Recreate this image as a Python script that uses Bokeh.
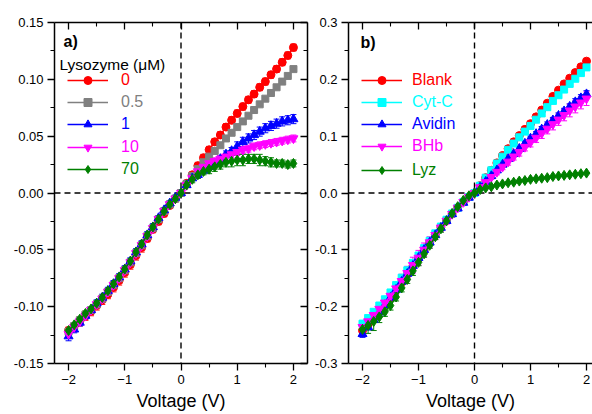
from bokeh.plotting import figure
from bokeh.models import (ColumnDataSource, Whisker, TeeHead, Span, Label, Legend, LegendItem,
                          LinearAxis, FixedTicker, PrintfTickFormatter, Range1d)
from bokeh.layouts import row
from bokeh.core.properties import value
from bokeh.embed import file_html
from bokeh.resources import INLINE

FONT = "Liberation Sans"

# ---------------- data ----------------
voltage = [-2.0, -1.9, -1.8, -1.7, -1.6, -1.5, -1.4, -1.3, -1.2, -1.1, -1.0,
           -0.9, -0.8, -0.7, -0.6, -0.5, -0.4, -0.3, -0.2, -0.1, 0.0,
           0.1, 0.2, 0.3, 0.4, 0.5, 0.6, 0.7, 0.8, 0.9, 1.0,
           1.1, 1.2, 1.3, 1.4, 1.5, 1.6, 1.7, 1.8, 1.9, 2.0]

# panel a) Lysozyme concentrations
lyso_labels = ["0", "0.5", "1", "10", "70"]
lyso_colors = ["#FF0000", "#808080", "#0000FF", "#FF00FF", "#008000"]
lyso_markers = ["circle", "square", "triangle", "inverted_triangle", "diamond"]

cur_0 = [-0.121, -0.117, -0.113, -0.108, -0.104, -0.099, -0.094, -0.089, -0.083, -0.077, -0.070,
         -0.063, -0.055, -0.048, -0.040, -0.032, -0.025, -0.018, -0.011, -0.005, 0.000,
         0.0085, 0.016, 0.024, 0.031, 0.038, 0.045, 0.051, 0.058, 0.064, 0.070,
         0.076, 0.082, 0.087, 0.093, 0.098, 0.104, 0.109, 0.115, 0.121, 0.128]
cur_05 = [-0.122, -0.117, -0.112, -0.107, -0.103, -0.098, -0.093, -0.087, -0.081, -0.075, -0.068,
          -0.061, -0.053, -0.046, -0.038, -0.031, -0.023, -0.016, -0.010, -0.005, 0.000,
          0.008, 0.015, 0.021, 0.027, 0.032, 0.037, 0.042, 0.048, 0.053, 0.058,
          0.063, 0.068, 0.073, 0.078, 0.083, 0.088, 0.093, 0.098, 0.103, 0.109]
cur_1 = [-0.126, -0.120, -0.114, -0.108, -0.103, -0.097, -0.092, -0.086, -0.080, -0.074, -0.067,
         -0.060, -0.052, -0.045, -0.037, -0.030, -0.022, -0.015, -0.009, -0.004, 0.000,
         0.007, 0.013, 0.016, 0.020, 0.023, 0.026, 0.030, 0.034, 0.037, 0.041,
         0.045, 0.048, 0.051, 0.054, 0.057, 0.059, 0.061, 0.063, 0.064, 0.065]
cur_10 = [-0.124, -0.118, -0.113, -0.108, -0.103, -0.098, -0.093, -0.087, -0.081, -0.075, -0.068,
          -0.061, -0.053, -0.046, -0.038, -0.031, -0.023, -0.016, -0.010, -0.005, 0.000,
          0.007, 0.013, 0.019, 0.023, 0.026, 0.028, 0.030, 0.032, 0.034, 0.036,
          0.038, 0.039, 0.041, 0.042, 0.043, 0.044, 0.045, 0.046, 0.047, 0.048]
cur_70 = [-0.121, -0.116, -0.111, -0.106, -0.102, -0.097, -0.092, -0.086, -0.080, -0.074, -0.067,
          -0.060, -0.052, -0.045, -0.037, -0.030, -0.023, -0.016, -0.010, -0.005, 0.000,
          0.007, 0.012, 0.016, 0.019, 0.021, 0.023, 0.025, 0.027, 0.028, 0.029,
          0.029, 0.030, 0.030, 0.029, 0.028, 0.027, 0.026, 0.026, 0.025, 0.026]

err_0 = [0.003, 0.003, 0.004, 0.004, 0.004, 0.004, 0.004, 0.004, 0.004, 0.004, 0.004,
         0.004, 0.004, 0.004, 0.003, 0.003, 0.003, 0.003, 0.002, 0.002, 0.001,
         0.002, 0.002, 0.003, 0.003, 0.003, 0.003, 0.003, 0.003, 0.003, 0.003,
         0.003, 0.003, 0.003, 0.003, 0.003, 0.003, 0.003, 0.003, 0.003, 0.003]
err_05 = [0.002, 0.002, 0.002, 0.002, 0.002, 0.002, 0.002, 0.002, 0.002, 0.002, 0.002,
          0.002, 0.002, 0.002, 0.002, 0.002, 0.002, 0.002, 0.002, 0.001, 0.001,
          0.002, 0.002, 0.002, 0.002, 0.002, 0.002, 0.002, 0.002, 0.002, 0.002,
          0.002, 0.002, 0.002, 0.002, 0.002, 0.002, 0.002, 0.002, 0.002, 0.002]
err_1 = [0.004, 0.003, 0.003, 0.003, 0.003, 0.003, 0.003, 0.003, 0.003, 0.003, 0.003,
         0.003, 0.003, 0.003, 0.003, 0.003, 0.002, 0.002, 0.002, 0.002, 0.001,
         0.002, 0.002, 0.003, 0.003, 0.003, 0.003, 0.003, 0.003, 0.003, 0.004,
         0.004, 0.004, 0.004, 0.004, 0.004, 0.004, 0.004, 0.004, 0.004, 0.004]
err_10 = [0.003, 0.002, 0.002, 0.002, 0.002, 0.002, 0.002, 0.002, 0.002, 0.002, 0.002,
          0.002, 0.002, 0.002, 0.002, 0.002, 0.002, 0.002, 0.002, 0.001, 0.001,
          0.002, 0.002, 0.002, 0.003, 0.003, 0.003, 0.003, 0.003, 0.003, 0.003,
          0.003, 0.003, 0.003, 0.003, 0.003, 0.003, 0.003, 0.003, 0.003, 0.003]
err_70 = [0.002, 0.002, 0.002, 0.002, 0.002, 0.002, 0.002, 0.002, 0.002, 0.002, 0.002,
          0.002, 0.002, 0.002, 0.002, 0.002, 0.002, 0.002, 0.002, 0.001, 0.001,
          0.002, 0.003, 0.003, 0.003, 0.004, 0.004, 0.004, 0.004, 0.005, 0.005,
          0.005, 0.004, 0.004, 0.005, 0.004, 0.004, 0.003, 0.003, 0.003, 0.003]

lyso_values = [cur_0, cur_05, cur_1, cur_10, cur_70]
lyso_errors = [err_0, err_05, err_1, err_10, err_70]

# panel b) proteins
prot_labels = ["Blank", "Cyt-C", "Avidin", "BHb", "Lyz"]
prot_colors = ["#FF0000", "#00FFFF", "#0000FF", "#FF00FF", "#008000"]
prot_markers = ["circle", "square", "triangle", "inverted_triangle", "diamond"]

cur_blank = [-0.242, -0.231, -0.219, -0.207, -0.196, -0.184, -0.170, -0.157, -0.143, -0.129, -0.115,
             -0.101, -0.087, -0.073, -0.060, -0.048, -0.037, -0.026, -0.016, -0.007, 0.000,
             0.013, 0.027, 0.040, 0.053, 0.066, 0.078, 0.090, 0.101, 0.112, 0.122,
             0.134, 0.146, 0.158, 0.170, 0.181, 0.192, 0.202, 0.212, 0.222, 0.232]
cur_cytc = [-0.230, -0.220, -0.209, -0.198, -0.187, -0.175, -0.162, -0.149, -0.136, -0.123, -0.110,
            -0.097, -0.084, -0.071, -0.059, -0.047, -0.036, -0.026, -0.016, -0.007, 0.000,
            0.013, 0.027, 0.040, 0.052, 0.064, 0.076, 0.087, 0.098, 0.108, 0.118,
            0.129, 0.140, 0.151, 0.162, 0.172, 0.182, 0.192, 0.201, 0.211, 0.221]
cur_avidin = [-0.248, -0.236, -0.223, -0.210, -0.197, -0.184, -0.170, -0.156, -0.142, -0.128, -0.114,
              -0.100, -0.087, -0.074, -0.061, -0.049, -0.037, -0.027, -0.017, -0.008, 0.000,
              0.010, 0.020, 0.030, 0.040, 0.050, 0.060, 0.069, 0.078, 0.087, 0.096,
              0.104, 0.112, 0.120, 0.128, 0.136, 0.144, 0.152, 0.160, 0.167, 0.174]
cur_bhb = [-0.236, -0.226, -0.215, -0.204, -0.193, -0.181, -0.168, -0.155, -0.141, -0.127, -0.114,
           -0.100, -0.087, -0.074, -0.061, -0.049, -0.037, -0.026, -0.016, -0.007, 0.000,
           0.010, 0.019, 0.028, 0.037, 0.046, 0.055, 0.064, 0.072, 0.081, 0.089,
           0.097, 0.105, 0.113, 0.121, 0.129, 0.137, 0.145, 0.152, 0.159, 0.166]
cur_lyz = [-0.240, -0.233, -0.226, -0.218, -0.209, -0.198, -0.183, -0.167, -0.152, -0.137, -0.122,
           -0.107, -0.092, -0.077, -0.063, -0.049, -0.036, -0.024, -0.013, -0.005, 0.000,
           0.006, 0.009, 0.011, 0.014, 0.016, 0.018, 0.019, 0.021, 0.022, 0.024,
           0.025, 0.026, 0.027, 0.029, 0.030, 0.031, 0.032, 0.033, 0.034, 0.035]

err_blank = [0.005, 0.004, 0.004, 0.004, 0.004, 0.004, 0.004, 0.004, 0.004, 0.004, 0.004,
             0.004, 0.004, 0.004, 0.003, 0.003, 0.003, 0.003, 0.002, 0.002, 0.001,
             0.002, 0.002, 0.003, 0.003, 0.003, 0.004, 0.004, 0.004, 0.004, 0.004,
             0.004, 0.004, 0.004, 0.004, 0.004, 0.004, 0.004, 0.004, 0.004, 0.004]
err_cytc = [0.006, 0.004, 0.004, 0.004, 0.004, 0.004, 0.004, 0.003, 0.003, 0.003, 0.003,
            0.003, 0.003, 0.003, 0.003, 0.003, 0.003, 0.002, 0.002, 0.002, 0.001,
            0.002, 0.002, 0.002, 0.003, 0.003, 0.003, 0.003, 0.003, 0.003, 0.003,
            0.003, 0.003, 0.003, 0.003, 0.003, 0.003, 0.003, 0.003, 0.003, 0.003]
err_avidin = [0.006, 0.005, 0.005, 0.004, 0.004, 0.004, 0.004, 0.004, 0.004, 0.004, 0.004,
              0.004, 0.004, 0.003, 0.003, 0.003, 0.003, 0.003, 0.002, 0.002, 0.001,
              0.002, 0.002, 0.003, 0.003, 0.003, 0.004, 0.004, 0.004, 0.004, 0.004,
              0.004, 0.005, 0.005, 0.005, 0.005, 0.005, 0.005, 0.006, 0.006, 0.006]
err_bhb = [0.010, 0.010, 0.010, 0.009, 0.009, 0.009, 0.010, 0.012, 0.012, 0.014, 0.013,
           0.012, 0.010, 0.008, 0.007, 0.006, 0.005, 0.004, 0.003, 0.002, 0.001,
           0.003, 0.004, 0.004, 0.005, 0.005, 0.006, 0.006, 0.007, 0.007, 0.008,
           0.008, 0.009, 0.009, 0.010, 0.010, 0.010, 0.011, 0.011, 0.011, 0.012]
err_lyz = [0.010, 0.014, 0.016, 0.010, 0.008, 0.008, 0.007, 0.007, 0.007, 0.008, 0.006,
           0.006, 0.005, 0.005, 0.006, 0.004, 0.004, 0.003, 0.003, 0.002, 0.001,
           0.001, 0.001, 0.001, 0.001, 0.001, 0.001, 0.001, 0.001, 0.001, 0.001,
           0.001, 0.001, 0.001, 0.001, 0.001, 0.001, 0.001, 0.001, 0.001, 0.001]

prot_values = [cur_blank, cur_cytc, cur_avidin, cur_bhb, cur_lyz]
prot_errors = [err_blank, err_cytc, err_avidin, err_bhb, err_lyz]

x_major = [-2, -1, 0, 1, 2]
x_minor = [-1.5, -0.5, 0.5, 1.5]
ya_major = [-0.15, -0.10, -0.05, 0.0, 0.05, 0.10, 0.15]
ya_minor = [-0.125, -0.075, -0.025, 0.025, 0.075, 0.125]
yb_major = [-0.3, -0.2, -0.1, 0.0, 0.1, 0.2, 0.3]
yb_minor = [-0.25, -0.15, -0.05, 0.05, 0.15, 0.25]

marker_sizes = {"circle": 8, "square": 7, "triangle": 9, "inverted_triangle": 9, "diamond": 10}


def style_axis(ax, labels=True, inward=False):
    ax.axis_line_width = 1.5
    ax.axis_line_color = "black"
    ax.major_tick_line_width = 1.3
    ax.minor_tick_line_width = 1.1
    ax.major_tick_line_color = "black"
    ax.minor_tick_line_color = "black"
    if inward:
        ax.major_tick_in, ax.major_tick_out = 7, 0
        ax.minor_tick_in, ax.minor_tick_out = 4, 0
    else:
        ax.major_tick_in, ax.major_tick_out = 0, 7
        ax.minor_tick_in, ax.minor_tick_out = 0, 4
    ax.major_label_text_font = FONT
    if labels:
        ax.major_label_text_color = "black"
        ax.major_label_text_font_size = "13px"
        ax.major_label_standoff = 4
    else:
        ax.major_label_text_color = None
        ax.major_label_text_font_size = "1px"
        ax.major_label_standoff = 0


def make_panel(width, x_end, y_lo, y_hi, y_major, y_minor, y_fmt, borders, with_right,
               names, colors, markers, values, errors, leg_x, leg_ys, leg_standoff, tag, tag_xy):
    p = figure(width=width, height=414, output_backend="svg", toolbar_location=None,
               x_range=Range1d(-2.25, x_end), y_range=Range1d(y_lo, y_hi),
               min_border_left=borders[0], min_border_right=borders[1],
               min_border_top=borders[2], min_border_bottom=borders[3])
    p.outline_line_color = None
    p.grid.visible = False
    p.background_fill_color = "white"
    p.border_fill_color = "white"

    xt = FixedTicker(ticks=x_major, minor_ticks=x_minor)
    yt = FixedTicker(ticks=y_major, minor_ticks=y_minor)
    p.xaxis.ticker = xt
    p.yaxis.ticker = yt
    p.yaxis.formatter = PrintfTickFormatter(format=y_fmt)
    style_axis(p.xaxis[0])
    style_axis(p.yaxis[0])
    p.xaxis.axis_label = "Voltage (V)"
    p.xaxis.axis_label_text_font = FONT
    p.xaxis.axis_label_text_font_size = "18px"
    p.xaxis.axis_label_text_font_style = "normal"
    p.xaxis.axis_label_text_color = "black"
    p.xaxis.axis_label_standoff = 4

    top = LinearAxis(ticker=FixedTicker(ticks=x_major, minor_ticks=x_minor))
    style_axis(top, labels=False, inward=True)
    p.add_layout(top, "above")
    if with_right:
        right = LinearAxis(ticker=FixedTicker(ticks=y_major, minor_ticks=y_minor))
        style_axis(right, labels=False, inward=True)
        p.add_layout(right, "right")

    p.add_layout(Span(location=0, dimension="height", line_color="black", line_width=1.4,
                      line_dash="6 4", level="underlay"))
    p.add_layout(Span(location=0, dimension="width", line_color="black", line_width=1.4,
                      line_dash="6 4", level="underlay"))

    for i in range(len(names)):
        yv = values[i]
        ev = errors[i]
        src = ColumnDataSource(dict(x=voltage, y=yv,
                                    upper=[a + b for a, b in zip(yv, ev)],
                                    lower=[a - b for a, b in zip(yv, ev)]))
        c = colors[i]
        p.add_layout(Whisker(source=src, base="x", upper="upper", lower="lower",
                             dimension="height", line_color=c, line_width=1,
                             upper_head=TeeHead(size=6, line_color=c, line_width=1),
                             lower_head=TeeHead(size=6, line_color=c, line_width=1)))
        ln = p.line("x", "y", source=src, line_color=c, line_width=1.5)
        sc = p.scatter("x", "y", source=src, marker=markers[i], size=marker_sizes[markers[i]],
                       fill_color=c, line_color=c)
        lg = Legend(items=[LegendItem(label=value(names[i]), renderers=[ln, sc])],
                    location=(leg_x, leg_ys[i]), background_fill_alpha=0,
                    border_line_color=None, padding=0, margin=0, spacing=0,
                    glyph_width=41, glyph_height=20, label_height=20,
                    label_standoff=leg_standoff, label_text_color=c,
                    label_text_font=FONT, label_text_font_size="16px")
        p.add_layout(lg)

    p.add_layout(Label(x=tag_xy[0], y=tag_xy[1], text=tag, text_font=FONT,
                       text_font_style="bold", text_font_size="16px",
                       text_baseline="middle", text_color="black"))
    return p


p1 = make_panel(312, 2.25, -0.15, 0.15, ya_major, ya_minor, "%.2f", (54, 5, 20, 51), True,
                lyso_labels, lyso_colors, lyso_markers, lyso_values, lyso_errors,
                13, [273, 251, 229, 206, 184], 13, "a)", (-2.09, 0.1335))
p1.add_layout(Label(x=-2.16, y=0.1134, text="Lysozyme (\u03bcM)", text_font=FONT,
                    text_font_size="15.5px", text_baseline="middle", text_color="black"))

p2 = make_panel(280, 2.107, -0.3, 0.3, yb_major, yb_minor, "%.1f", (36, 0, 22, 50), False,
                prot_labels, prot_colors, prot_markers, prot_values, prot_errors,
                13, [273, 251, 229, 207, 183], 10, "b)", (-2.036, 0.265))

layout = row(p1, p2)
open("out.html", "w").write(file_html(layout, INLINE))
